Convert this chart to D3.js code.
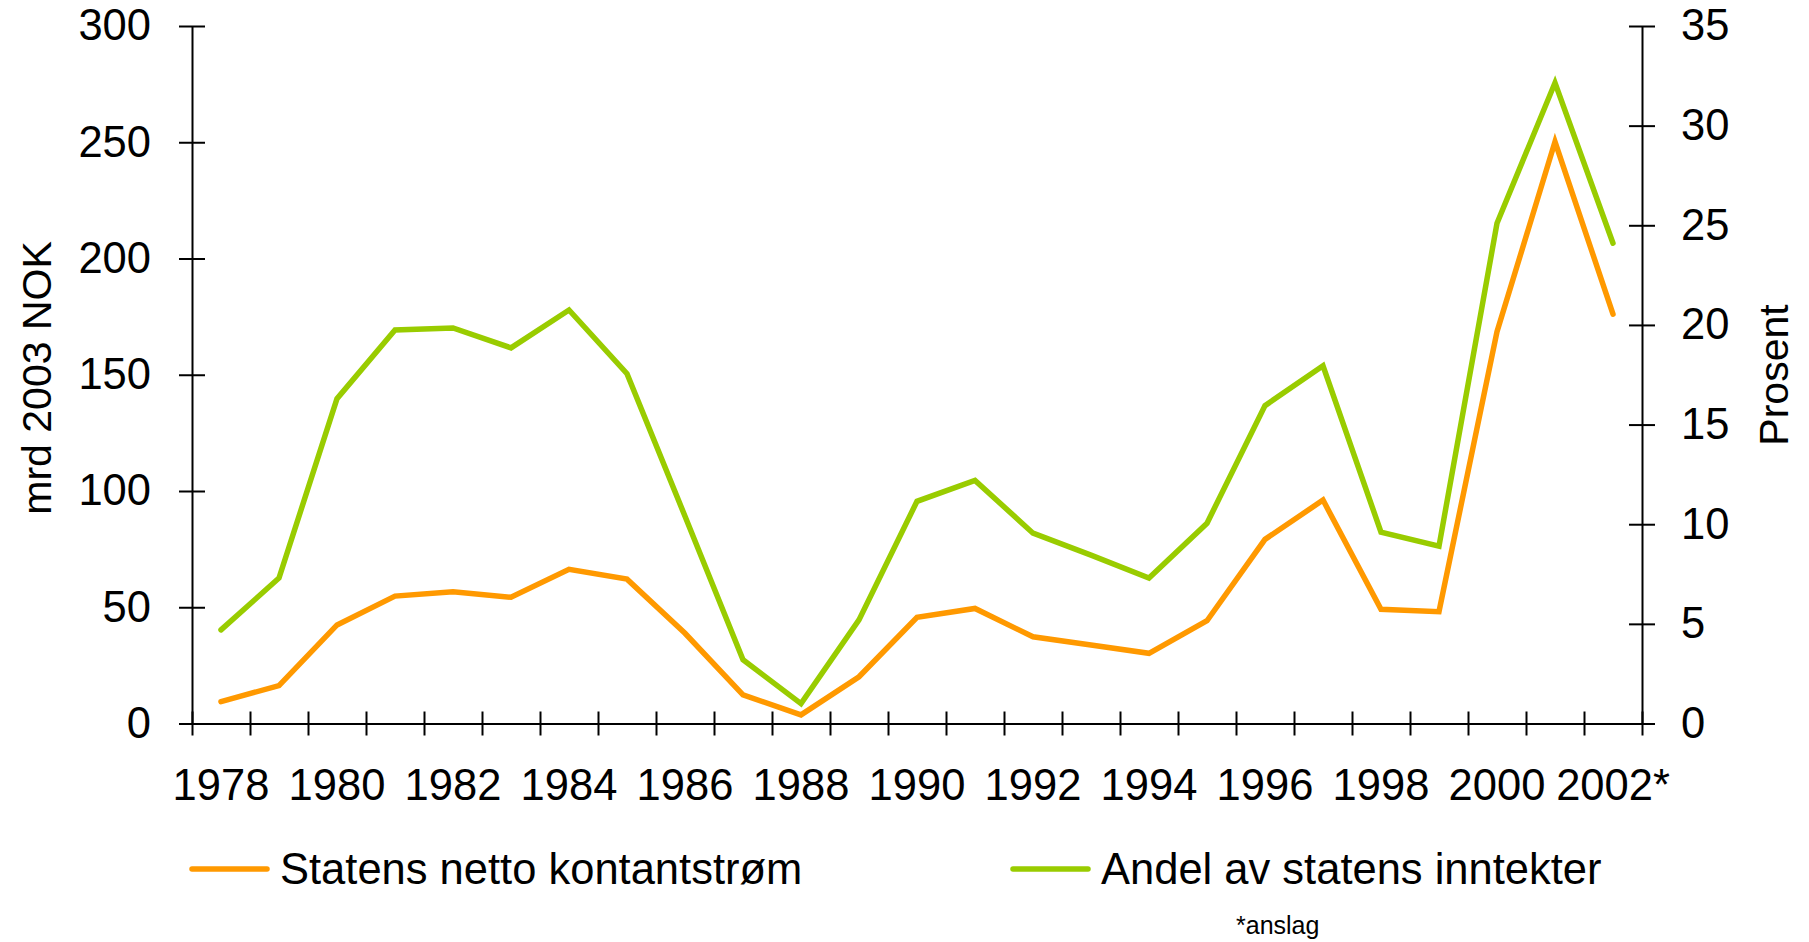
<!DOCTYPE html>
<html>
<head>
<meta charset="utf-8">
<script src="https://cdn.jsdelivr.net/npm/d3@7"></script>
<style>
  body { margin: 0; background: #fff; }
  text { font-family: "Liberation Sans", Arial, sans-serif; fill: #000; }
  .axis path, .axis line { stroke: #000; stroke-width: 2; }
</style>
</head>
<body>
<div id="chart"></div>
<script>
var svgWidth = 1809;
var svgHeight = 942;

var margin = { top: 26, right: 167, bottom: 218.5, left: 192 };
var width = svgWidth - margin.left - margin.right;
var height = svgHeight - margin.top - margin.bottom;

// data
var years = ["1978", "1979", "1980", "1981", "1982", "1983", "1984", "1985", "1986", "1987",
  "1988", "1989", "1990", "1991", "1992", "1993", "1994", "1995", "1996", "1997",
  "1998", "1999", "2000", "2001", "2002"];
var yearLabels = ["1978", "1980", "1982", "1984", "1986", "1988", "1990", "1992", "1994", "1996",
  "1998", "2000", "2002*"];
var kontantstrom = [9.4, 16.3, 42.4, 54.8, 56.7, 54.3, 66.3, 62.1, 38.8, 12.3,
  3.7, 20.1, 45.7, 49.5, 37.3, 33.8, 30.2, 44.2, 79.2, 96.1,
  49.1, 48.1, 168.5, 250.2, 176.1];
var andel = [4.7, 7.3, 16.3, 19.75, 19.85, 18.85, 20.75, 17.55, 10.4, 3.2,
  1.0, 5.2, 11.15, 12.2, 9.55, 8.45, 7.3, 10.05, 15.95, 17.95,
  9.6, 8.9, 25.1, 32.15, 24.1];
var leftTicks = [0, 50, 100, 150, 200, 250, 300];
var rightTicks = [0, 5, 10, 15, 20, 25, 30, 35];

var orange = "#ff9900";
var green = "#99cc00";
var fontSize = "43.5px";

var svg = d3.select("#chart")
  .append("svg")
  .attr("width", svgWidth)
  .attr("height", svgHeight)
  .style("background", "#fff");

var chartGroup = svg.append("g")
  .attr("transform", `translate(${margin.left}, ${margin.top})`);

var xBand = d3.scaleBand()
  .domain(years)
  .range([0, width])
  .padding(0);

var xEdges = d3.scaleLinear()
  .domain([0, years.length])
  .range([0, width]);

var yLeft = d3.scaleLinear().domain([0, 300]).range([height, 0]);
var yRight = d3.scaleLinear().domain([0, 35]).range([height, 0]);

var cx = d => xBand(d) + xBand.bandwidth() / 2;

// left axis
var leftAxis = chartGroup.append("g")
  .attr("class", "axis")
  .call(d3.axisLeft(yLeft).tickValues(leftTicks).tickSize(13).tickSizeOuter(0).tickPadding(28));
leftAxis.selectAll(".tick line").attr("x1", 13);
leftAxis.selectAll("text").style("font-size", fontSize);

// right axis
var rightAxis = chartGroup.append("g")
  .attr("class", "axis")
  .attr("transform", `translate(${width}, 0)`)
  .call(d3.axisRight(yRight).tickValues(rightTicks).tickSize(13).tickSizeOuter(0).tickPadding(26));
rightAxis.selectAll(".tick line").attr("x1", -13);
rightAxis.selectAll("text").style("font-size", fontSize);

// bottom axis: ticks between categories
var bottomAxis = chartGroup.append("g")
  .attr("class", "axis")
  .attr("transform", `translate(0, ${height})`)
  .call(d3.axisBottom(xEdges).tickValues(d3.range(years.length + 1)).tickFormat("").tickSize(12).tickSizeOuter(0));
bottomAxis.selectAll(".tick line").attr("y1", -12);

// year labels every other category
var labelYears = years.filter((d, i) => i % 2 === 0);
var labelAxis = chartGroup.append("g")
  .attr("transform", `translate(0, ${height})`)
  .call(d3.axisBottom(xBand).tickValues(labelYears).tickSize(0).tickPadding(46)
    .tickFormat((d, i) => yearLabels[i]));
labelAxis.select(".domain").remove();
labelAxis.selectAll("text").style("font-size", fontSize);

// lines
var lineLeft = d3.line()
  .x((d, i) => cx(years[i]))
  .y(d => yLeft(d));

var lineRight = d3.line()
  .x((d, i) => cx(years[i]))
  .y(d => yRight(d));

chartGroup.append("path")
  .datum(andel)
  .attr("fill", "none")
  .attr("stroke", green)
  .attr("stroke-width", 5.5)
  .attr("stroke-linejoin", "miter")
  .attr("stroke-linecap", "round")
  .attr("d", lineRight);

chartGroup.append("path")
  .datum(kontantstrom)
  .attr("fill", "none")
  .attr("stroke", orange)
  .attr("stroke-width", 5.5)
  .attr("stroke-linejoin", "miter")
  .attr("stroke-linecap", "round")
  .attr("d", lineLeft);

// axis titles
svg.append("text")
  .attr("transform", "translate(51, 378) rotate(-90)")
  .attr("text-anchor", "middle")
  .style("font-size", "41px")
  .text("mrd 2003 NOK");

svg.append("text")
  .attr("transform", "translate(1788, 375) rotate(-90)")
  .attr("text-anchor", "middle")
  .style("font-size", "41px")
  .text("Prosent");

// legend
var legendItems = [
  { name: "Statens netto kontantstrøm", color: orange, x: 190 },
  { name: "Andel av statens inntekter", color: green, x: 1011 }
];

var legend = svg.selectAll(".legend")
  .data(legendItems)
  .enter()
  .append("g")
  .attr("class", "legend")
  .attr("transform", d => `translate(${d.x}, 869)`);

legend.append("line")
  .attr("x1", 2)
  .attr("x2", 77)
  .attr("stroke", d => d.color)
  .attr("stroke-width", 5.5)
  .attr("stroke-linecap", "round");

legend.append("text")
  .attr("x", 90)
  .attr("y", 14.5)
  .style("font-size", fontSize)
  .text(d => d.name);

svg.append("text")
  .attr("x", 1236)
  .attr("y", 934)
  .style("font-size", "25px")
  .text("*anslag");
</script>
</body>
</html>
